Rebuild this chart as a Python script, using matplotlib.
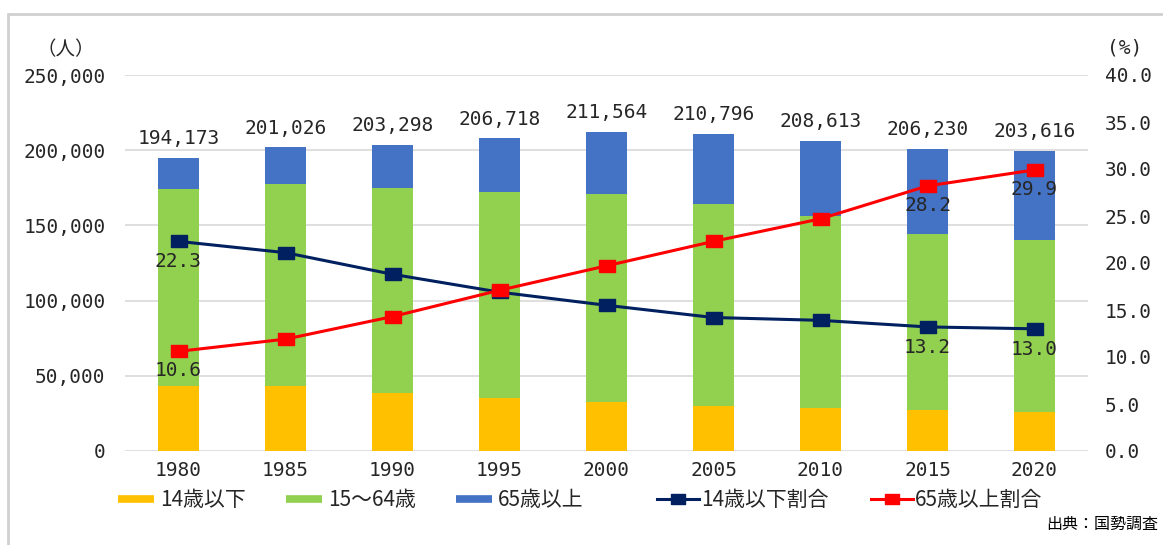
import matplotlib
matplotlib.use("Agg")
import matplotlib.pyplot as plt
from matplotlib.lines import Line2D
from matplotlib.patches import Rectangle
import numpy as np

years = ["1980", "1985", "1990", "1995", "2000", "2005", "2010", "2015", "2020"]
under14 = [43300, 42900, 38500, 35100, 32900, 30200, 28700, 27300, 26200]
age15_64 = [130700, 134900, 136200, 137400, 138200, 134300, 127500, 117200, 114000]
over65 = [20700, 24000, 28800, 35300, 41100, 46200, 50000, 56600, 59400]
totals = [194173, 201026, 203298, 206718, 211564, 210796, 208613, 206230, 203616]
ratio14 = [22.3, 21.1, 18.8, 16.9, 15.5, 14.2, 13.9, 13.2, 13.0]
ratio65 = [10.6, 11.9, 14.3, 17.1, 19.7, 22.3, 24.7, 28.2, 29.9]
ratio_label_idx = [0, 7, 8]

labels_bar = ["14歳以下", "15～64歳", "65歳以上"]
labels_line = ["14歳以下割合", "65歳以上割合"]

C_Y, C_G, C_B = "#FFC000", "#92D050", "#4472C4"
C_N, C_R = "#002060", "#FF0000"
TXT = "#262626"
MONO = ["DejaVu Sans Mono"]
JP = ["Noto Sans CJK JP", "DejaVu Sans"]

W, H = 1163, 545
fig = plt.figure(figsize=(W / 100, H / 100), dpi=100)
ax = fig.add_axes([125 / W, 1 - 451 / H, (1088 - 125) / W, (451 - 75) / H])
ax2 = ax.twinx()

x = np.arange(len(years))
bw = 0.39
u = np.array(under14)
g = np.array(age15_64)
b = np.array(over65)
ax.bar(x, u, bw, color=C_Y, zorder=2)
ax.bar(x, g, bw, bottom=u, color=C_G, zorder=2)
ax.bar(x, b, bw, bottom=u + g, color=C_B, zorder=2)
tops = u + g + b
for xi, t, lab in zip(x, tops, totals):
    ax.annotate(f"{lab:,}", (xi, t), xytext=(0, 7), textcoords="offset points",
                ha="center", va="bottom", fontsize=14, family=MONO, color=TXT)

ax.set_xlim(-0.5, len(years) - 0.5)
ax.set_ylim(0, 250000)
ax.set_yticks(np.arange(0, 250001, 50000))
ax.set_yticklabels([f"{v:,}" for v in range(0, 250001, 50000)])
ax.set_xticks(x)
ax.set_xticklabels(years)
ax.grid(axis="y", color="#d9d9d9", lw=1.2, zorder=0)
ax.set_axisbelow(True)
for s in ax.spines.values():
    s.set_visible(False)
for s in ax2.spines.values():
    s.set_visible(False)
ax.tick_params(axis="y", length=0, pad=14, labelsize=14, labelcolor=TXT)
ax.tick_params(axis="x", length=0, pad=7, labelsize=14, labelcolor=TXT)
for t in ax.get_yticklabels() + ax.get_xticklabels():
    t.set_family(MONO)

ax2.set_ylim(0, 40)
ax2.set_yticks(np.arange(0, 40.1, 5))
ax2.set_yticklabels([f"{v:.1f}" for v in np.arange(0, 40.1, 5)])
ax2.tick_params(axis="y", length=0, pad=12, labelsize=14, labelcolor=TXT)
for t in ax2.get_yticklabels():
    t.set_family(MONO)

rect_marker = [(-1.35, -1), (1.35, -1), (1.35, 1), (-1.35, 1), (-1.35, -1)]
ax2.plot(x, ratio14, color=C_N, lw=2.2, marker=rect_marker, markersize=12, zorder=3)
ax2.plot(x, ratio65, color=C_R, lw=2.2, marker=rect_marker, markersize=12, zorder=3)
for i in ratio_label_idx:
    ax2.annotate(f"{ratio14[i]:.1f}", (x[i], ratio14[i]), xytext=(0, -8), textcoords="offset points",
                 ha="center", va="top", fontsize=14, family=MONO, color=TXT)
    ax2.annotate(f"{ratio65[i]:.1f}", (x[i], ratio65[i]), xytext=(0, -7), textcoords="offset points",
                 ha="center", va="top", fontsize=14, family=MONO, color=TXT)

fig.text(66 / W, 1 - 50 / H, "（人）", ha="center", va="center", fontsize=14, family=JP, color=TXT)
fig.text(1125 / W, 1 - 48 / H, "(%)", ha="center", va="center", fontsize=14, family=MONO, color=TXT)

h_bar = [Line2D([], [], color=c, lw=5.5, solid_capstyle="butt") for c in (C_Y, C_G, C_B)]
leg1 = fig.legend(h_bar, labels_bar, loc="center left", bbox_to_anchor=(110 / W, 1 - 500 / H), ncol=3,
                  frameon=False, prop={"family": JP, "size": 15}, handlelength=1.73,
                  handletextpad=0.3, columnspacing=1.9, borderaxespad=0)
h_line = [Line2D([], [], color=c, lw=2.2, marker=rect_marker, markersize=10) for c in (C_N, C_R)]
leg2 = fig.legend(h_line, labels_line, loc="center left", bbox_to_anchor=(649 / W, 1 - 500 / H), ncol=2,
                  frameon=False, prop={"family": JP, "size": 15}, handlelength=2.0,
                  handletextpad=0.1, columnspacing=2.05, borderaxespad=0)
for t in leg1.get_texts() + leg2.get_texts():
    t.set_color(TXT)

fig.text(1158 / W, 1 - 524 / H, "出典：国勢調査", ha="right", va="center", fontsize=11.5, family=JP, color="#000000")

fig.patches.append(Rectangle((8 / W, -0.2), 1.1, 1.2 - 14 / H, transform=fig.transFigure,
                             fill=False, edgecolor="#d0d0d0", lw=2, zorder=0))

fig.savefig("out.png", dpi=100)
